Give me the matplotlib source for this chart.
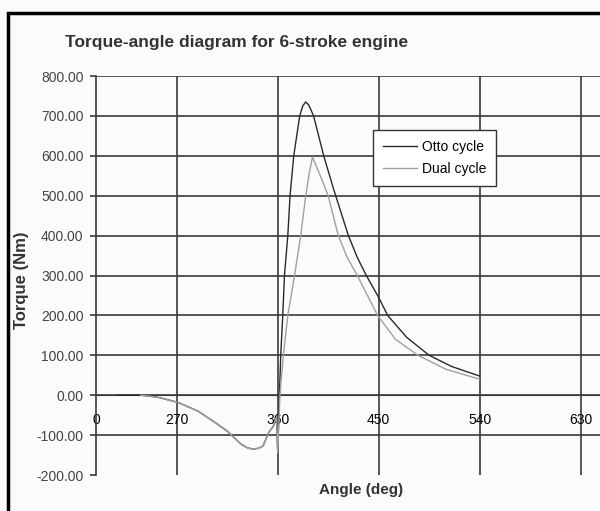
import matplotlib
matplotlib.use('Agg')
import matplotlib.pyplot as plt
from matplotlib.patches import Rectangle

# values
otto_angle = [217, 238, 253, 271, 289, 305, 315, 327, 333, 338, 343, 347, 352, 356, 359, 360,
              361.5, 362.7, 364.5, 366, 369, 371, 374.3, 379.6, 382.3, 385, 387.7, 392, 401, 410,
              423, 431, 439, 450, 458, 475, 495, 515, 540]
otto_torque = [0, 0, -5, -18, -40, -70, -90, -122, -132, -135, -133, -127, -93, -78, -55, -145,
               0, 100, 200, 300, 400, 500, 600, 700, 725, 735, 727, 700, 600, 515,
               400, 345, 300, 245, 200, 145, 100, 72, 48]
dual_angle = [238, 253, 271, 289, 305, 315, 327, 333, 338, 343, 347, 352, 356, 359, 360,
              362, 365, 369, 375, 380.5, 385, 388, 391, 398, 405, 414, 422, 431, 449, 465,
              485, 510, 540]
dual_torque = [0, -5, -18, -40, -70, -90, -122, -132, -135, -133, -127, -93, -78, -55, -145,
               0, 100, 200, 300, 400, 500, 555, 597, 550, 500, 400, 345, 300, 200, 140,
               100, 65, 40]

x_ticks = [198, 270, 360, 450, 540, 630]
x_labels = ['0', '270', '360', '450', '540', '630']
y_ticks = [-200, -100, 0, 100, 200, 300, 400, 500, 600, 700, 800]

FONT = ['Liberation Sans', 'DejaVu Sans']
plt.rcParams['font.family'] = FONT

fig = plt.figure(figsize=(6.0, 5.11), dpi=100)
fig.patch.set_facecolor('#fbfbfb')
# scanned page frame (left and top edges only)
fig.patches.append(Rectangle((8 / 600, -0.1), 1.2, 1 - 13 / 511 + 0.1, transform=fig.transFigure,
                             fill=False, edgecolor='black', linewidth=2.5))

ax = fig.add_axes([96 / 600, 1 - 475 / 511, 1 - 96 / 600 + 0.005, (475 - 76) / 511])
ax.set_facecolor('none')

grid_col = '#3a3a3a'
for y in y_ticks[1:]:
    ax.axhline(y, color=grid_col, linewidth=1.2, zorder=1)
for x in x_ticks[1:]:
    ax.axvline(x, color=grid_col, linewidth=1.2, zorder=1)

ax.plot(otto_angle, otto_torque, color='#2a2a2a', linewidth=1.0, label='Otto cycle', zorder=3)
ax.plot(dual_angle, dual_torque, color='#a0a0a0', linewidth=1.0, label='Dual cycle', zorder=4)

ax.set_xlim(198, 650)
ax.set_ylim(-200, 800)
ax.set_yticks(y_ticks)
ax.set_yticklabels([f'{v:.2f}' for v in y_ticks], fontsize=10, color='#444444')
ax.set_xticks(x_ticks)
ax.set_xticklabels(x_labels, fontsize=10, color='#444444')

for s in ['top', 'right']:
    ax.spines[s].set_visible(False)
ax.spines['bottom'].set_position(('data', 0))
ax.spines['bottom'].set_color(grid_col)
ax.spines['left'].set_color(grid_col)
ax.spines['left'].set_linewidth(1.2)
ax.tick_params(axis='y', length=4, width=1.2, color=grid_col, pad=5)
ax.tick_params(axis='x', length=0, pad=13)

leg = ax.legend(loc='upper left', bbox_to_anchor=(373 / 600, 1 - 130 / 511),
                bbox_transform=fig.transFigure, fontsize=10, fancybox=False,
                edgecolor='#333333', framealpha=1, handlelength=2.5, handletextpad=0.3,
                borderpad=0.7, labelspacing=0.6, borderaxespad=0)
leg.get_frame().set_linewidth(1.0)
leg.set_zorder(5)

fig.text(65 / 600, 1 - 42 / 511, 'Torque-angle diagram for 6-stroke engine', fontsize=12.5,
         fontweight='bold', color='#333333', va='center', ha='left')
fig.text(22 / 600, 1 - 280 / 511, 'Torque (Nm)', fontsize=12, fontweight='bold', rotation=90,
         color='#333333', va='center', ha='center')
fig.text(361 / 600, 1 - 490 / 511, 'Angle (deg)', fontsize=11, fontweight='bold',
         color='#333333', va='center', ha='center')

fig.savefig('out.png', dpi=100)
